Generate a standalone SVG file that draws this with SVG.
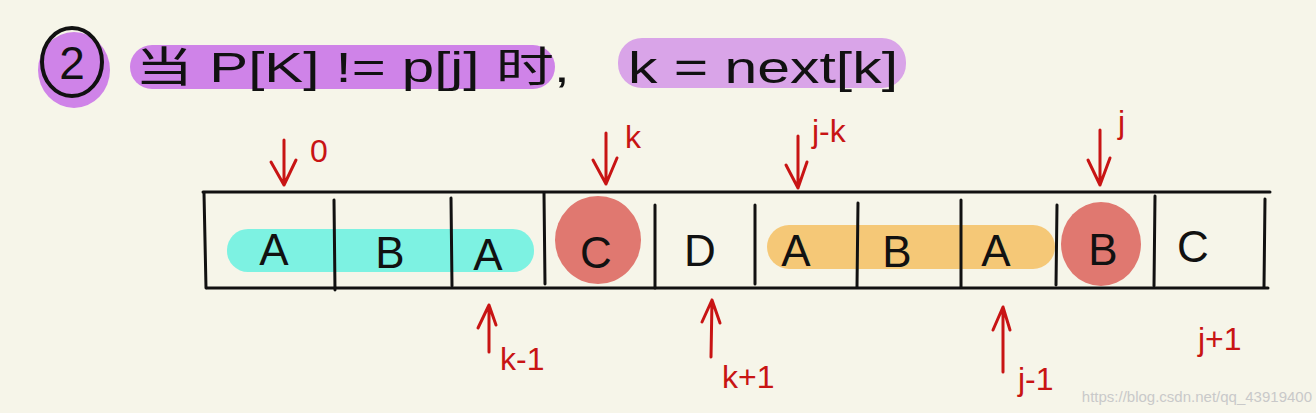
<svg xmlns="http://www.w3.org/2000/svg" width="1316" height="413" viewBox="0 0 1316 413">
<defs>
<style>
.hw{font-family:"Liberation Sans","Noto Sans CJK SC",sans-serif;fill:#111}
.cell{font-family:"Liberation Sans",sans-serif;font-size:44px;fill:#111;text-anchor:middle}
.lbl{font-family:"Liberation Sans",sans-serif;font-size:32px;fill:#c81414}
.line{stroke:#111;stroke-width:3;fill:none;stroke-linecap:round}
.arr{stroke:#c81414;stroke-width:3;fill:none;stroke-linecap:round;stroke-linejoin:round}
</style>
</defs>
<rect width="1316" height="413" fill="#f6f5e9"/>

<g id="title">
<ellipse cx="74" cy="70" rx="36" ry="38" fill="#cf83e8"/>
<ellipse cx="72" cy="62" rx="30" ry="34" fill="none" stroke="#111" stroke-width="4"/>
<text class="hw" x="72" y="79" font-size="46" text-anchor="middle">2</text>
<rect x="130" y="45" width="425" height="44" rx="22" fill="#cf83e8"/>
<text class="hw" x="135" y="82" font-size="42" textLength="435" lengthAdjust="spacingAndGlyphs">当 P[K] != p[j] 时,</text>
<rect x="618" y="38" width="288" height="50" rx="24" fill="#d9a4e8"/>
<text class="hw" x="628" y="83" font-size="44" textLength="270" lengthAdjust="spacingAndGlyphs">k = next[k]</text>
</g>

<g id="highlights">
<rect x="227" y="229" width="307" height="43" rx="21" fill="#7df2e2"/>
<rect x="767" y="225" width="288" height="44" rx="22" fill="#f5c877"/>
<ellipse cx="598" cy="240" rx="43" ry="44" fill="#e07870"/>
<ellipse cx="1101" cy="244" rx="40" ry="42" fill="#e07870"/>
</g>

<g id="table">
<line class="line" x1="203" y1="192" x2="1270" y2="192"/>
<line class="line" x1="207" y1="288" x2="1268" y2="288"/>
<line class="line" x1="204" y1="193" x2="206" y2="288"/>
<line class="line" x1="334" y1="200" x2="335" y2="290"/>
<line class="line" x1="451" y1="198" x2="452" y2="286"/>
<line class="line" x1="544" y1="193" x2="545" y2="284"/>
<line class="line" x1="655" y1="205" x2="655" y2="288"/>
<line class="line" x1="755" y1="205" x2="755" y2="284"/>
<line class="line" x1="858" y1="203" x2="857" y2="287"/>
<line class="line" x1="961" y1="200" x2="961" y2="287"/>
<line class="line" x1="1057" y1="205" x2="1056" y2="285"/>
<line class="line" x1="1155" y1="196" x2="1154" y2="286"/>
<line class="line" x1="1265" y1="199" x2="1264" y2="287"/>
</g>

<g id="cells">
<text class="cell" x="274" y="265">A</text>
<text class="cell" x="390" y="268">B</text>
<text class="cell" x="488" y="270">A</text>
<text class="cell" x="596" y="268">C</text>
<text class="cell" x="700" y="266">D</text>
<text class="cell" x="796" y="266">A</text>
<text class="cell" x="897" y="267">B</text>
<text class="cell" x="996" y="266">A</text>
<text class="cell" x="1103" y="265">B</text>
<text class="cell" x="1193" y="262">C</text>
</g>

<g id="connectors">
<path class="arr" d="M284 140 L284 185 M271 162 L284 185 L296 160"/>
<path class="arr" d="M606 133 L606 184 M593 160 L606 184 L617 158"/>
<path class="arr" d="M798 136 L798 188 M786 165 L798 188 L807 162"/>
<path class="arr" d="M1100 130 L1100 185 M1088 160 L1100 185 L1110 158"/>
<path class="arr" d="M489 352 L489 305 M478 328 L489 305 L496 325"/>
<path class="arr" d="M711 357 L712 300 M702 322 L712 300 L720 323"/>
<path class="arr" d="M1003 372 L1003 307 M993 330 L1003 307 L1010 330"/>
</g>

<g id="labels">
<text class="lbl" x="310" y="162">0</text>
<text class="lbl" x="625" y="148">k</text>
<text class="lbl" x="812" y="142">j-k</text>
<text class="lbl" x="1118" y="133">j</text>
<text class="lbl" x="500" y="370">k-1</text>
<text class="lbl" x="722" y="388">k+1</text>
<text class="lbl" x="1018" y="390">j-1</text>
<text class="lbl" x="1198" y="350">j+1</text>
</g>

<text x="1312" y="402" font-family="Liberation Sans,sans-serif" font-size="15" fill="#c9c9c9" text-anchor="end">https://blog.csdn.net/qq_43919400</text>
</svg>
